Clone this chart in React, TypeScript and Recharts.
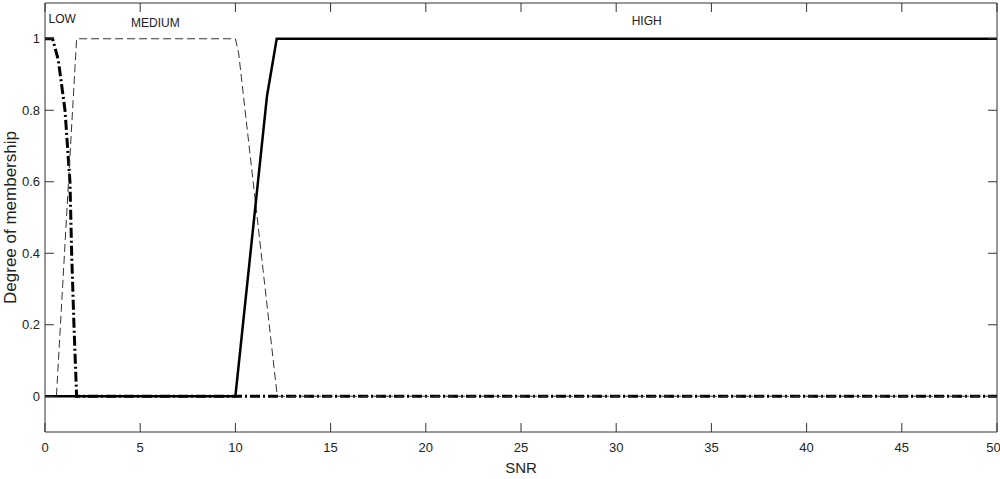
import { LineChart, Line, XAxis, YAxis, ReferenceDot } from 'recharts';

// membership functions for SNR (x) -> degree (y)
const lowX = [0, 0.4, 0.7, 1.05, 1.31, 1.4, 1.52, 1.66, 50];
const lowY = [1, 1, 0.94, 0.8, 0.6, 0.4, 0.2, 0, 0];

const medX = [0, 0.6, 1.66, 10, 10.17, 12.2, 50];
const medY = [0, 0, 1, 1, 0.96, 0, 0];

const highX = [0, 10, 11.66, 12.17, 50];
const highY = [0, 0, 0.84, 1, 1];

const xTicks = [0, 5, 10, 15, 20, 25, 30, 35, 40, 45, 50];
const yTicks = [0, 0.2, 0.4, 0.6, 0.8, 1];

const setNames = ['LOW', 'MEDIUM', 'HIGH'];
const setLabelX = [0.9, 5.8, 31.6];
const setLabelY = [1.055, 1.045, 1.05];

const toPoints = (xs: number[], ys: number[]) => xs.map((x, i) => ({ x, y: ys[i] }));

const FONT = 'Arial, "Liberation Sans", sans-serif';
const AXIS = '#333';
const X_DOMAIN = [0, 50];
const Y_DOMAIN = [-0.1, 1.1];

export default function App() {
  const tickStyle = { fill: '#222', fontSize: 13, fontFamily: FONT };
  const blank = () => '';
  return (
    <div style={{ position: 'absolute', left: 0, top: 0, width: 1000, height: 479, background: '#fff' }}>
      <LineChart width={1000} height={479} margin={{ top: 3, right: 3, left: 0, bottom: 0 }}>
        {/* top/right axes only close the box, ticks point inward */}
        <XAxis xAxisId="t" orientation="top" type="number" dataKey="x" domain={X_DOMAIN} ticks={xTicks} height={1}
          mirror tickSize={9} stroke={AXIS} tickFormatter={blank} />
        <YAxis yAxisId="r" orientation="right" type="number" domain={Y_DOMAIN} ticks={yTicks} width={1}
          mirror tickSize={9} stroke={AXIS} tickFormatter={blank} />

        <XAxis
          xAxisId="b"
          dataKey="x"
          type="number"
          domain={X_DOMAIN}
          ticks={xTicks}
          height={47}
          tickSize={-9}
          tickMargin={20}
          stroke={AXIS}
          tick={tickStyle}
          label={{ value: 'SNR', position: 'insideBottom', offset: 6, fill: '#222', fontSize: 15, fontFamily: FONT }}
        />
        <YAxis
          yAxisId="l"
          type="number"
          domain={Y_DOMAIN}
          ticks={yTicks}
          width={45}
          tickSize={-9}
          tickMargin={14}
          stroke={AXIS}
          tick={tickStyle}
          label={{ value: 'Degree of membership', angle: -90, position: 'center', dx: -13, fill: '#222', fontSize: 17, fontFamily: FONT }}
        />

        {/* invisible copy so the top/right axes get their ticks */}
        <Line
          xAxisId="t"
          yAxisId="r"
          data={toPoints(highX, highY)}
          dataKey="y"
          stroke="none"
          strokeOpacity={0}
          dot={false}
          activeDot={false}
          legendType="none"
          isAnimationActive={false}
        />

        <Line
          xAxisId="b"
          yAxisId="l"
          data={toPoints(lowX, lowY)}
          dataKey="y"
          stroke="#000"
          strokeWidth={3}
          strokeDasharray="10 3 2 3"
          dot={false}
          isAnimationActive={false}
        />
        <Line
          xAxisId="b"
          yAxisId="l"
          data={toPoints(medX, medY)}
          dataKey="y"
          stroke="#333"
          strokeWidth={1}
          strokeDasharray="8 4"
          dot={false}
          isAnimationActive={false}
        />
        <Line
          xAxisId="b"
          yAxisId="l"
          data={toPoints(highX, highY)}
          dataKey="y"
          stroke="#000"
          strokeWidth={2.5}
          dot={false}
          isAnimationActive={false}
        />
        {setNames.map((name, i) => (
          <ReferenceDot
            key={name}
            xAxisId="b"
            yAxisId="l"
            x={setLabelX[i]}
            y={setLabelY[i]}
            r={0}
            stroke="none"
            ifOverflow="visible"
            label={{ value: name, position: 'center', fill: '#222', fontSize: 12, fontFamily: FONT }}
          />
        ))}
      </LineChart>
    </div>
  );
}
